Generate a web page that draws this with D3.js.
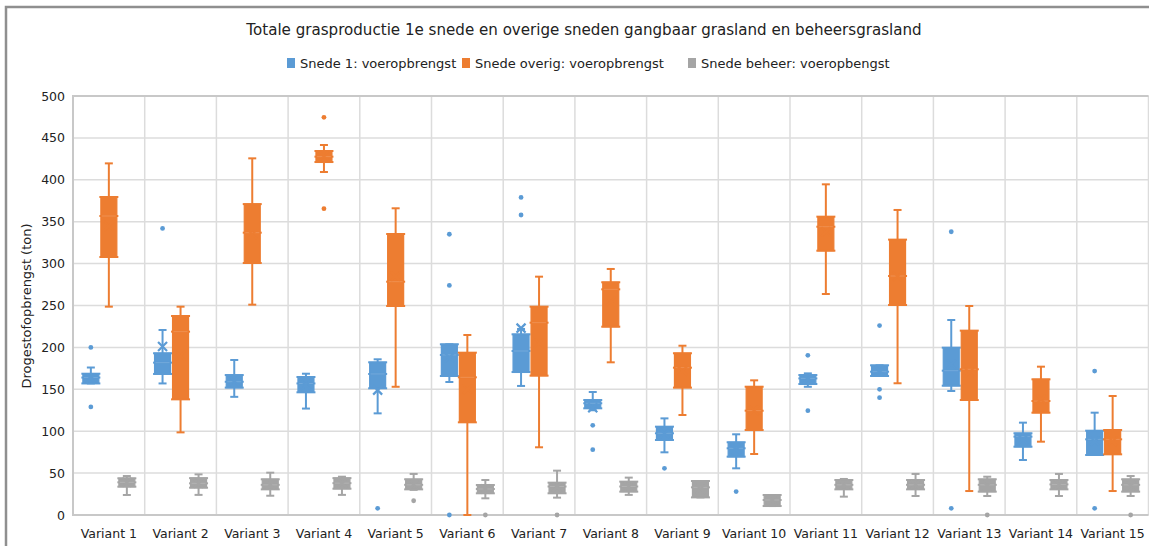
<!DOCTYPE html>
<html>
<head>
<meta charset="utf-8">
<script src="https://cdn.jsdelivr.net/npm/d3@7"></script>
<style>
  html, body { margin: 0; padding: 0; background: #fff; }
  svg { display: block; font-family: "DejaVu Sans", Verdana, sans-serif; }
</style>
</head>
<body>
<svg id="chart" width="1149" height="546"></svg>
<script>
// Categories and tick values
const variants = ["Variant 1","Variant 2","Variant 3","Variant 4","Variant 5","Variant 6","Variant 7","Variant 8",
  "Variant 9","Variant 10","Variant 11","Variant 12","Variant 13","Variant 14","Variant 15"];
const yTicks = [0, 50, 100, 150, 200, 250, 300, 350, 400, 450, 500];
const seriesNames = ["Snede 1: voeropbrengst", "Snede overig: voeropbrengst", "Snede beheer: voeropbengst"];
const seriesColors = ["#5b9bd5", "#ed7d31", "#a5a5a5"];

// Box statistics per variant: [whisker low, Q1, median, Q3, whisker high, mean]
const snede1Stats = [
  [157, 157, 164, 168.6, 176, 163],
  [157, 168.3, 181.8, 193, 220.8, 201],
  [141, 152, 159, 167, 185, 160],
  [127, 146.4, 157, 164.7, 168.6, 155],
  [121.3, 151.2, 168.3, 182.2, 185.8, 149],
  [158.7, 165.9, 191, 203.7, 203.7, 188],
  [154, 170.6, 195.7, 215.6, 222, 223],
  [125, 127.3, 133.3, 137.2, 146.8, 128],
  [74.8, 89.5, 97.5, 105.4, 115.3, 97],
  [55.7, 69.6, 79.6, 86.8, 96.3, 78],
  [153, 156.3, 163, 167, 169, 162],
  [165.9, 165.9, 171, 178.6, 178.6, 172],
  [148, 154.3, 172.2, 199.7, 232.7, 180],
  [65.6, 81.5, 93.5, 97.5, 110.2, 90],
  [71.6, 71.6, 90.3, 100.6, 122.1, 88]
];
const snede1Outliers = [
  [200, 129], [342], [], [], [8], [335, 274, 0], [379, 358], [107, 78],
  [55.7], [27.9], [190.5, 124.5], [226, 150, 140], [338, 8], [], [171.8, 8]
];

const snedeOverigStats = [
  [248.6, 307.9, 356.8, 379.5, 419.6, 345],
  [98.6, 138, 218.8, 237.5, 248.6, 190],
  [251, 300.7, 336.9, 371, 425.6, 335],
  [409.3, 421.2, 427.6, 434.4, 441.5, 428],
  [153, 249.4, 278.4, 335.3, 366, 285],
  [0, 110.6, 164.3, 193.7, 214.8, 150],
  [80.8, 166.3, 229.5, 248.6, 284.4, 205],
  [182.2, 224.7, 269.3, 277.7, 293.6, 255],
  [119.3, 152, 175.8, 193, 202, 172],
  [72.8, 101.4, 124.5, 153.1, 160.7, 125],
  [263.7, 315.4, 344, 356, 394.6, 338],
  [157.2, 250.6, 285.2, 328.6, 364, 285],
  [28.6, 137.2, 173.9, 220, 249.4, 170],
  [87.5, 122.1, 136, 161.9, 177, 138],
  [28.6, 72.4, 90.3, 101.4, 142, 88]
];
const snedeOverigOutliers = [
  [], [], [], [474.5, 365.5], [], [], [], [], [], [], [], [], [], [], []
];

const snedeBeheerStats = [
  [23.9, 33.8, 39, 43.8, 46.5, 39],
  [24, 32.6, 37.8, 44, 48.5, 38],
  [23, 30.6, 36, 42.6, 50.5, 36],
  [24, 31.4, 38, 44, 45.7, 38],
  [30, 30.6, 36, 42.6, 49, 36],
  [19.9, 25.9, 31, 35.8, 41.8, 31],
  [20.7, 25.9, 34, 38.6, 52.9, 33],
  [24, 27.9, 34, 39.8, 44.6, 34],
  [21, 21, 33, 40.6, 40.6, 31],
  [10.7, 10.7, 17.9, 23.9, 23.9, 18],
  [21.9, 30.6, 36, 41.8, 43, 36],
  [22.7, 30.6, 36, 41.8, 49, 36],
  [22.7, 27.9, 36, 42.6, 45.7, 35],
  [22.7, 30.6, 36.5, 41.8, 49, 36],
  [22.7, 27.9, 36, 42.6, 46.5, 35]
];
const snedeBeheerOutliers = [
  [], [], [], [], [17], [0], [0], [], [], [], [], [], [0], [], [0]
];

const allStats = [snede1Stats, snedeOverigStats, snedeBeheerStats];
const allOutliers = [snede1Outliers, snedeOverigOutliers, snedeBeheerOutliers];

// Layout
const svg = d3.select("#chart");
const W = 1149, H = 546;
const plot = { left: 73, right: 1148.5, top: 96, bottom: 515 };

const x = d3.scaleBand().domain(variants).range([plot.left, plot.right]).padding(0);
const y = d3.scaleLinear().domain([0, 500]).range([plot.bottom, plot.top]);
const boxW = 18;
const xs = d3.scaleBand().domain([0, 1, 2])
  .range([x.bandwidth() / 2 - 1.5 * boxW, x.bandwidth() / 2 + 1.5 * boxW]).padding(0);

// Outer frame (left and top edges)
svg.append("path")
  .attr("d", `M6,${H} L6,7 L${W},7`)
  .attr("fill", "none").attr("stroke", "#8f8f8f").attr("stroke-width", 2.5);

// Title
svg.append("text")
  .attr("x", 584).attr("y", 35)
  .attr("text-anchor", "middle")
  .attr("font-size", 15.1).attr("fill", "#222")
  .text("Totale grasproductie 1e snede en overige sneden gangbaar grasland en beheersgrasland");

// Legend
const legendPos = [287, 462, 688];
const legend = svg.append("g");
seriesNames.forEach((name, i) => {
  legend.append("rect").attr("x", legendPos[i]).attr("y", 58).attr("width", 8).attr("height", 10)
    .attr("fill", seriesColors[i]);
  legend.append("text").attr("x", legendPos[i] + 13).attr("y", 67.5)
    .attr("font-size", 13).attr("fill", "#222").text(name);
});

// Horizontal gridlines
svg.append("g").selectAll("line").data(yTicks).join("line")
  .attr("x1", plot.left).attr("x2", plot.right)
  .attr("y1", d => y(d)).attr("y2", d => y(d))
  .attr("stroke", "#dcdcdc").attr("stroke-width", 1.5);

// Vertical gridlines at category boundaries
svg.append("g").selectAll("line").data(variants.slice(1)).join("line")
  .attr("x1", d => x(d)).attr("x2", d => x(d))
  .attr("y1", plot.top).attr("y2", plot.bottom)
  .attr("stroke", "#dcdcdc").attr("stroke-width", 1.5);
svg.append("line").attr("x1", plot.right).attr("x2", plot.right)
  .attr("y1", plot.top).attr("y2", plot.bottom)
  .attr("stroke", "#dcdcdc").attr("stroke-width", 1.5);

// Plot border (top, left, bottom)
svg.append("path")
  .attr("d", `M${plot.right},${plot.top} L${plot.left},${plot.top} L${plot.left},${plot.bottom} L${plot.right},${plot.bottom}`)
  .attr("fill", "none").attr("stroke", "#c8c8c8").attr("stroke-width", 2);

// Y axis labels
const yAxis = d3.axisLeft(y).tickValues(yTicks).tickSize(0).tickPadding(8);
const yg = svg.append("g").attr("transform", `translate(${plot.left},0)`).call(yAxis);
yg.select(".domain").remove();
yg.selectAll("text").attr("font-size", 12.5).attr("fill", "#222")
  .attr("font-family", "DejaVu Sans, Verdana, sans-serif");

// X axis labels
const xAxis = d3.axisBottom(x).tickSize(0).tickPadding(14);
const xg = svg.append("g").attr("transform", `translate(0,${plot.bottom})`).call(xAxis);
xg.select(".domain").remove();
xg.selectAll("text").attr("font-size", 12.5).attr("fill", "#222")
  .attr("font-family", "DejaVu Sans, Verdana, sans-serif");

// Y axis title
svg.append("text")
  .attr("transform", `translate(31,306) rotate(-90)`)
  .attr("text-anchor", "middle")
  .attr("font-size", 13).attr("fill", "#222")
  .text("Drogestofopbrengst (ton)");

// Box plots
const capW = 8;
allStats.forEach((stats, si) => {
  const color = seriesColors[si];
  const g = svg.append("g");
  stats.forEach((s, ci) => {
    const [lo, q1, med, q3, hi, mean] = s;
    const cx = x(variants[ci]) + xs(si) + xs.bandwidth() / 2;
    const bx = cx - boxW / 2 + 1;
    const bw = boxW - 2;
    // whisker
    g.append("line").attr("x1", cx).attr("x2", cx).attr("y1", y(hi)).attr("y2", y(lo))
      .attr("stroke", color).attr("stroke-width", 2);
    // caps
    [lo, hi].forEach(v => {
      g.append("line").attr("x1", cx - capW / 2).attr("x2", cx + capW / 2)
        .attr("y1", y(v)).attr("y2", y(v)).attr("stroke", color).attr("stroke-width", 2);
    });
    // box
    g.append("rect").attr("x", bx).attr("y", y(q3)).attr("width", bw)
      .attr("height", Math.max(1, y(q1) - y(q3)))
      .attr("fill", color).attr("stroke", color).attr("stroke-width", 1.2);
    // box edge nubs at quartiles and median
    [q1, med, q3].forEach(v => {
      g.append("line").attr("x1", bx - 1.5).attr("x2", bx + bw + 1.5)
        .attr("y1", y(v)).attr("y2", y(v)).attr("stroke", color).attr("stroke-width", 2);
    });
    g.append("line").attr("x1", bx + 1).attr("x2", bx + bw - 1)
      .attr("y1", y(med)).attr("y2", y(med))
      .attr("stroke", "#ffffff").attr("stroke-opacity", 0.15).attr("stroke-width", 1);
    // mean marker (x)
    const my = y(mean), m = 4.5;
    g.append("path")
      .attr("d", `M${cx - m},${my - m} L${cx + m},${my + m} M${cx - m},${my + m} L${cx + m},${my - m}`)
      .attr("stroke", color).attr("stroke-width", 2.2).attr("fill", "none");
    // outliers
    allOutliers[si][ci].forEach(v => {
      g.append("circle").attr("cx", cx).attr("cy", y(v)).attr("r", 2.4).attr("fill", color);
    });
  });
});
</script>
</body>
</html>
